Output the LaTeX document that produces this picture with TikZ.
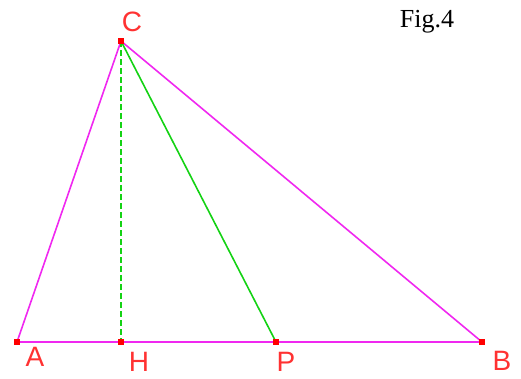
\documentclass[tikz,border=0pt]{standalone}
\usepackage{fontspec}
\setmainfont{Liberation Serif}
\newfontfamily\lblfont{Liberation Sans}
\definecolor{mag}{RGB}{240,40,240}
\definecolor{grn}{RGB}{20,210,20}
\definecolor{lred}{RGB}{255,50,50}
\begin{document}
\begin{tikzpicture}[x=1pt,y=-1pt,
  seg/.style={mag,line width=1.6pt},
  gseg/.style={grn,line width=1.6pt},
  pt/.style={fill=red,draw=none,minimum size=6pt,inner sep=0pt,rectangle},
  lbl/.style={text=lred,font=\lblfont\fontsize{28}{28}\selectfont,inner sep=0pt}]
\useasboundingbox (0,0) rectangle (521,378);
\coordinate (A) at (17,342);
\coordinate (H) at (121,342);
\coordinate (P) at (276,342);
\coordinate (B) at (482,342);
\coordinate (C) at (121,41);
\draw[seg] (A) -- (B);
\draw[seg] (A) -- (C);
\draw[seg] (C) -- (B);
\draw[gseg] (C) -- (P);
\draw[gseg,dash pattern=on 6pt off 3pt] (C) -- (H);
\foreach \p in {A,H,P,B,C} \node[pt] (m\p) at (\p) {};
\node[lbl] (lC) at (132,22) {C};
\node[lbl] (lA) at (35,357) {A};
\node[lbl] (lH) at (139,362) {H};
\node[lbl] (lP) at (286,362) {P};
\node[lbl] (lB) at (502,361) {B};
\node[font=\fontsize{26}{26}\selectfont,inner sep=0pt] (fig) at (427,22) {Fig.4};
\end{tikzpicture}
\end{document}
